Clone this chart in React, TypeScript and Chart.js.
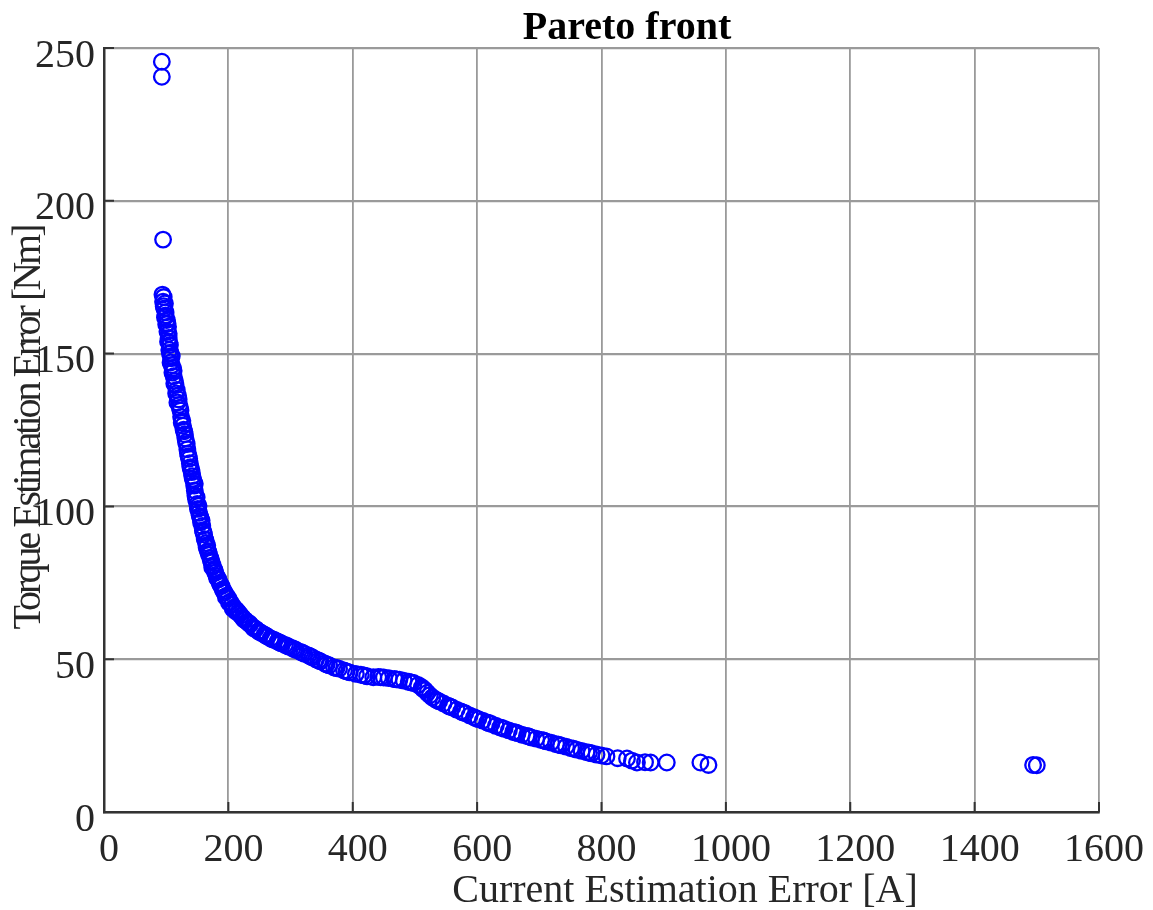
import React, { useEffect, useRef } from "react";
import { Chart, registerables } from "chart.js";

Chart.register(...registerables);

const chartTitle = "Pareto front";
const xAxisTitle = "Current Estimation Error [A]";
const yAxisTitle = "Torque Estimation Error [Nm]";

const xTickValues = [0, 200, 400, 600, 800, 1000, 1200, 1400, 1600];
const xTickLabels = ["0", "200", "400", "600", "800", "1000", "1200", "1400", "1600"];
const yTickValues = [0, 50, 100, 150, 200, 250];
const yTickLabels = ["0", "50", "100", "150", "200", "250"];

// Current estimation error [A]
const currentError = [
  93, 93, 95,
  94, 96, 95, 98, 97, 99, 98, 101, 100, 103, 102, 104, 105, 106, 105, 107, 108, 107, 109, 111, 110, 112,
  114, 115, 117, 119, 120, 121, 123, 124, 126, 127, 128, 130, 131, 133, 134, 135, 137, 138, 139, 141,
  142, 144, 145, 146, 147, 148, 150, 151, 153, 155, 156, 158, 159, 161, 162, 164, 165, 167, 169, 171,
  173, 175, 177, 179, 181, 184, 186, 189, 191, 194, 197, 200, 203, 206, 209, 213, 216, 220, 223, 227,
  231, 235, 239, 244, 248, 253, 258, 263, 268, 274, 279, 285, 291, 297, 303, 309, 316, 322, 329, 335,
  341, 348, 355, 362, 370, 378, 386, 395, 405, 413, 423, 433, 441, 450, 458, 467, 475, 482, 490, 498,
  505, 511, 516, 520, 524, 528, 533, 539, 546, 553, 560, 567, 574, 581, 588, 595, 602, 609, 616, 623,
  630, 637, 644, 651, 658, 665, 672, 680, 687, 695, 703, 711, 719, 727, 735, 743, 751, 760, 768, 776,
  784, 792, 800, 808, 826, 841, 849, 857, 870, 879, 905, 959, 972, 1494, 1500,
  96, 99, 102, 104, 103, 106, 109, 112, 113, 116, 118, 122, 125, 129, 132, 136, 140, 143, 146, 149,
  152, 154, 157, 160, 163, 166, 168, 172, 174, 178, 182, 187, 192, 196, 201, 207, 212, 218, 225, 233,
  241, 250, 260, 271, 282, 294, 306, 319, 332, 345, 358, 374, 390, 418, 445, 470, 494, 513, 536, 556,
  577, 598, 619, 640, 662, 683, 707, 731, 755, 780,
];

// Torque estimation error [Nm]
const torqueError = [
  245.5, 240.6, 187.3,
  169.3, 168.5, 167.0, 166.4, 164.8, 163.5, 161.9, 161.0, 159.6, 158.8, 157.2, 155.1, 153.6, 152.8, 151.2, 150.3, 148.5, 147.1, 146.2, 145.2, 143.8, 142.6,
  141.1, 139.7, 138.1, 136.3, 135.0, 133.2, 131.4, 129.3, 128.0, 126.4, 125.1, 123.6, 122.2, 120.4, 118.7, 117.3, 115.6, 114.1, 112.8, 111.2,
  109.9, 108.4, 106.8, 105.2, 103.6, 102.3, 100.8, 99.2, 97.9, 96.4, 94.8, 93.6, 92.1, 90.8, 89.3, 88.0, 86.6, 85.4, 84.2, 83.1,
  81.7, 80.6, 79.4, 78.3, 77.2, 76.1, 75.0, 73.9, 72.9, 71.8, 70.8, 69.9, 68.8, 67.8, 66.9, 66.1, 65.3, 64.3, 63.6, 62.8,
  62.1, 61.4, 60.6, 59.9, 59.2, 58.6, 58.0, 57.4, 56.8, 56.3, 55.8, 55.2, 54.7, 54.1, 53.6, 53.0, 52.4, 51.8, 51.2, 50.6,
  49.9, 49.3, 48.6, 48.0, 47.3, 46.9, 46.3, 45.7, 45.2, 44.9, 44.4, 44.1, 44.2, 44.0, 43.8, 43.5, 43.3, 43.0, 42.6, 42.2,
  41.6, 40.8, 39.9, 39.0, 38.2, 37.5, 36.8, 36.2, 35.5, 34.8, 34.2, 33.5, 32.9, 32.3, 31.6, 31.0, 30.4, 29.9, 29.3, 28.8,
  28.2, 27.7, 27.2, 26.7, 26.2, 25.8, 25.3, 24.9, 24.4, 24.0, 23.6, 23.1, 22.7, 22.2, 21.8, 21.4, 20.9, 20.4, 20.0, 19.6,
  19.2, 18.8, 18.5, 18.2, 17.6, 17.5, 16.8, 16.2, 16.3, 16.2, 16.2, 16.2, 15.4, 15.4, 15.3,
  165.5, 162.5, 159.9, 156.5, 153.9, 150.0, 149.2, 144.4, 140.2, 137.0, 134.0, 132.3, 127.4, 124.6, 121.0, 116.4, 112.3, 109.0, 107.4, 103.0,
  100.2, 96.9, 95.4, 91.5, 89.0, 87.2, 85.0, 82.3, 80.1, 79.0, 76.5, 74.5, 72.3, 70.3, 68.5, 66.5, 65.6, 64.8, 63.0, 61.8,
  60.1, 58.9, 57.8, 56.5, 55.5, 54.4, 53.3, 52.1, 50.9, 49.6, 48.3, 47.1, 46.0, 44.7, 44.1, 43.4, 42.4, 40.3, 36.5, 34.5,
  32.6, 30.7, 29.1, 27.5, 26.0, 24.7, 23.4, 22.0, 20.7, 19.4,
];

const FONT = "'Liberation Serif', 'Times New Roman', serif";

const decorPlugin = {
  id: "matlabDecor",
  afterDraw(chart: any) {
    const { ctx, chartArea } = chart;
    const xs = chart.scales.x;
    const ys = chart.scales.y;
    ctx.save();
    ctx.strokeStyle = "#333333";
    ctx.lineWidth = 2;
    ctx.beginPath();
    yTickValues.forEach((v) => {
      const py = ys.getPixelForValue(v);
      ctx.moveTo(chartArea.left, py);
      ctx.lineTo(chartArea.left + 10, py);
    });
    xTickValues.forEach((v) => {
      const px = xs.getPixelForValue(v);
      ctx.moveTo(px, chartArea.bottom);
      ctx.lineTo(px, chartArea.bottom - 10);
    });
    ctx.stroke();

    ctx.fillStyle = "#000000";
    ctx.textAlign = "center";
    ctx.textBaseline = "alphabetic";
    ctx.font = `bold 40px ${FONT}`;
    ctx.fillText(chartTitle, 627, 39);

    ctx.fillStyle = "#262626";
    ctx.font = `40px ${FONT}`;
    ctx.fillText(xAxisTitle, 685, 902);

    ctx.save();
    ctx.translate(40, 428);
    ctx.rotate(-Math.PI / 2);
    (ctx as any).letterSpacing = "-3px";
    ctx.fillText(yAxisTitle, 0, 0);
    ctx.restore();

    ctx.restore();
  },
};

export default function App() {
  const canvasRef = useRef<HTMLCanvasElement | null>(null);

  useEffect(() => {
    if (!canvasRef.current) return;
    const points = currentError.map((x, i) => ({ x, y: torqueError[i] }));
    const chart = new Chart(canvasRef.current, {
      type: "scatter",
      data: {
        datasets: [
          {
            data: points,
            pointStyle: "circle",
            pointRadius: 7.8,
            pointHoverRadius: 7.8,
            pointBorderWidth: 2.3,
            borderColor: "#0000ff",
            backgroundColor: "rgba(0,0,0,0)",
          },
        ],
      },
      options: {
        animation: false,
        responsive: false,
        events: [],
        layout: { padding: { top: 48, right: 52, left: 0, bottom: 0 } },
        plugins: {
          legend: { display: false },
          tooltip: { enabled: false },
          title: { display: false },
        },
        scales: {
          x: {
            type: "linear",
            min: 0,
            max: 1600,
            afterFit: (scale: any) => {
              scale.height = 98;
            },
            afterBuildTicks: (scale: any) => {
              scale.ticks = xTickValues.map((v) => ({ value: v }));
            },
            ticks: {
              padding: 14,
              labelOffset: 5,
              maxRotation: 0,
              autoSkip: false,
              color: "#262626",
              font: { family: FONT, size: 40 },
              callback: (v: any) => xTickLabels[xTickValues.indexOf(Number(v))] ?? "",
            },
            grid: { color: "#9a9a9a", lineWidth: 1.8, drawTicks: false },
            border: { color: "#333333", width: 2.5 },
          },
          y: {
            type: "linear",
            min: 0,
            max: 250,
            afterFit: (scale: any) => {
              scale.width = 104;
            },
            afterBuildTicks: (scale: any) => {
              scale.ticks = yTickValues.map((v) => ({ value: v }));
            },
            ticks: {
              padding: 9,
              labelOffset: 8,
              autoSkip: false,
              color: "#262626",
              font: { family: FONT, size: 40 },
              callback: (v: any) => yTickLabels[yTickValues.indexOf(Number(v))] ?? "",
            },
            grid: { color: "#9a9a9a", lineWidth: 2.2, drawTicks: false },
            border: { color: "#333333", width: 2.5 },
          },
        },
      },
      plugins: [decorPlugin],
    });
    return () => chart.destroy();
  }, []);

  return (
    <div style={{ position: "absolute", left: 0, top: 0, width: 1153, height: 910, background: "#ffffff" }}>
      <canvas ref={canvasRef} width={1153} height={910} style={{ display: "block" }} />
    </div>
  );
}
